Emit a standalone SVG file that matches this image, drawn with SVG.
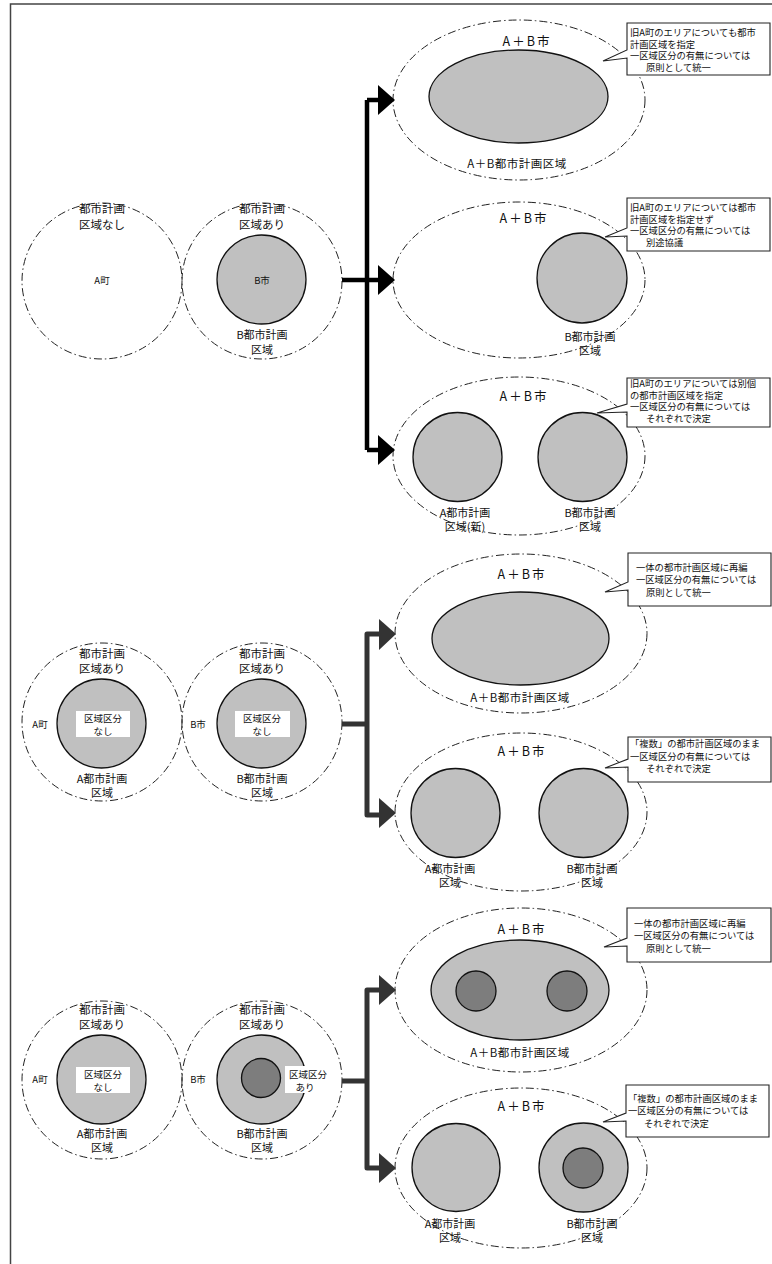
<svg xmlns="http://www.w3.org/2000/svg" width="772" height="1264" viewBox="0 0 772 1264">
<defs>
<style>
text{font-family:"Noto Sans CJK JP","Liberation Sans",sans-serif;fill:#111;text-anchor:middle;dominant-baseline:central}
.lbl{font-size:11px}
.big{font-size:11.5px}
.sm{font-size:9.5px}
.ab{font-size:12.5px;letter-spacing:2px}
.abr{font-size:11.5px;letter-spacing:0.5px}
.co{font-size:9.3px;text-anchor:start}
.zone{fill:none;stroke:#222;stroke-width:1;stroke-dasharray:8 3 1.5 3}
.area{fill:#c0c0c0;stroke:#111;stroke-width:1.3}
.dark{fill:#7d7d7d;stroke:#111;stroke-width:1.3}
.wbox{fill:#fff;stroke:none}
.call{fill:#fff;stroke:#222;stroke-width:1.1}
.conA{fill:none;stroke:#000;stroke-width:4.5;stroke-linejoin:round}
.conB{fill:none;stroke:#333;stroke-width:5;stroke-linejoin:round}
.headA{fill:#000}
.headB{fill:#333}
</style>
</defs>
<rect id="frame" x="10.5" y="4" width="800" height="1300" fill="none" stroke="#444" stroke-width="1.5"/>

<!-- ===== Section 1 ===== -->
<g id="s1-a">
<ellipse class="zone" cx="102" cy="281" rx="80" ry="78"/>
<text class="big" x="102" y="208">都市計画</text>
<text class="big" x="102" y="224">区域なし</text>
<text class="sm" x="102" y="280">A町</text>
</g>
<g id="s1-b">
<ellipse class="zone" cx="262" cy="281" rx="80" ry="78"/>
<circle class="area" cx="261.5" cy="279.5" r="44.5"/>
<text class="big" x="262" y="208">都市計画</text>
<text class="big" x="262" y="224">区域あり</text>
<text class="sm" x="262" y="280">B市</text>
<text class="lbl" x="262" y="334">B都市計画</text>
<text class="lbl" x="262" y="349">区域</text>
</g>
<g id="s1-r1">
<ellipse class="zone" cx="519" cy="100" rx="126" ry="80"/>
<ellipse class="area" cx="518.5" cy="96.5" rx="89.5" ry="46.5"/>
<text class="ab" x="527" y="40">A＋B市</text>
<text class="abr" x="517" y="163">A＋B都市計画区域</text>
</g>
<g id="s1-c1">
<path class="call" d="M627,23 H770 V75 H627 V58 L603,61 L627,50 Z"/>
<text class="co" x="630" y="31.5">旧A町のエリアについても都市</text>
<text class="co" x="630" y="43.5">計画区域を指定</text>
<text class="co" x="630" y="55">一区域区分の有無については</text>
<text class="co" x="646" y="67">原則として統一</text>
</g>
<g id="s1-r2">
<ellipse class="zone" cx="519" cy="280" rx="126" ry="78"/>
<circle class="area" cx="582" cy="278" r="45"/>
<text class="ab" x="524" y="217">A＋B市</text>
<text class="lbl" x="590" y="336">B都市計画</text>
<text class="lbl" x="590" y="350">区域</text>
</g>
<g id="s1-c2">
<path class="call" d="M627,198 H770 V251 H627 V236 L605,237 L627,228 Z"/>
<text class="co" x="630" y="206.5">旧A町のエリアについては都市</text>
<text class="co" x="630" y="218.5">計画区域を指定せず</text>
<text class="co" x="630" y="230">一区域区分の有無については</text>
<text class="co" x="646" y="242">別途協議</text>
</g>
<g id="s1-r3">
<ellipse class="zone" cx="519" cy="456" rx="126" ry="79"/>
<circle class="area" cx="457.5" cy="457" r="44.5"/>
<circle class="area" cx="582.5" cy="457" r="44.5"/>
<text class="ab" x="524" y="395">A＋B市</text>
<text class="lbl" x="465" y="512">A都市計画</text>
<text class="lbl" x="465" y="526">区域(新)</text>
<text class="lbl" x="590" y="512">B都市計画</text>
<text class="lbl" x="590" y="526">区域</text>
</g>
<g id="s1-c3">
<path class="call" d="M627,378 H770 V427 H627 V412 L597,413 L627,404 Z"/>
<text class="co" x="630" y="383">旧A町のエリアについては別個</text>
<text class="co" x="630" y="394.5">の都市計画区域を指定</text>
<text class="co" x="630" y="406">一区域区分の有無については</text>
<text class="co" x="646" y="418">それぞれで決定</text>
</g>

<!-- ===== Section 2 ===== -->
<g id="s2-a">
<ellipse class="zone" cx="102" cy="722" rx="80" ry="79"/>
<circle class="area" cx="101.5" cy="723.5" r="44.5"/>
<rect class="wbox" x="76" y="711" width="54" height="26"/>
<text class="big" x="102" y="653">都市計画</text>
<text class="big" x="102" y="668">区域あり</text>
<text class="sm" x="40" y="724">A町</text>
<text class="sm" x="103" y="717.5">区域区分</text>
<text class="sm" x="103" y="730.5">なし</text>
<text class="lbl" x="102" y="778">A都市計画</text>
<text class="lbl" x="102" y="792">区域</text>
</g>
<g id="s2-b">
<ellipse class="zone" cx="262" cy="722" rx="80" ry="79"/>
<circle class="area" cx="261.5" cy="723.5" r="44.5"/>
<rect class="wbox" x="235" y="711" width="55" height="26"/>
<text class="big" x="262" y="653">都市計画</text>
<text class="big" x="262" y="668">区域あり</text>
<text class="sm" x="198" y="724">B市</text>
<text class="sm" x="262" y="717.5">区域区分</text>
<text class="sm" x="262" y="730.5">なし</text>
<text class="lbl" x="262" y="778">B都市計画</text>
<text class="lbl" x="262" y="792">区域</text>
</g>
<g id="s2-r1">
<ellipse class="zone" cx="521" cy="633.5" rx="126" ry="79.5"/>
<ellipse class="area" cx="520.5" cy="638.5" rx="88.5" ry="46.5"/>
<text class="ab" x="522" y="573">A＋B市</text>
<text class="abr" x="520" y="697">A＋B都市計画区域</text>
</g>
<g id="s2-c1">
<path class="call" d="M628,553 H771 V606 H628 V590 L605,592 L628,582 Z"/>
<text class="co" x="636" y="566.5">一体の都市計画区域に再編</text>
<text class="co" x="636" y="579">一区域区分の有無については</text>
<text class="co" x="646" y="591.5">原則として統一</text>
</g>
<g id="s2-r2">
<ellipse class="zone" cx="521" cy="812" rx="126" ry="79"/>
<circle class="area" cx="455.5" cy="813" r="44.5"/>
<circle class="area" cx="583.5" cy="813" r="44.5"/>
<text class="ab" x="522" y="750">A＋B市</text>
<text class="lbl" x="450" y="868">A都市計画</text>
<text class="lbl" x="450" y="882">区域</text>
<text class="lbl" x="592" y="868">B都市計画</text>
<text class="lbl" x="592" y="882">区域</text>
</g>
<g id="s2-c2">
<path class="call" d="M628,737 H771 V782 H628 V767 L605,768 L628,759 Z"/>
<text class="co" x="630" y="743">「複数」の都市計画区域のまま</text>
<text class="co" x="630" y="755.5">一区域区分の有無については</text>
<text class="co" x="646" y="768">それぞれで決定</text>
</g>

<!-- ===== Section 3 ===== -->
<g id="s3-a">
<ellipse class="zone" cx="102" cy="1080" rx="80" ry="79"/>
<circle class="area" cx="101.5" cy="1079.5" r="44.5"/>
<rect class="wbox" x="76" y="1067" width="54" height="26"/>
<text class="big" x="102" y="1009">都市計画</text>
<text class="big" x="102" y="1024">区域あり</text>
<text class="sm" x="40" y="1079">A町</text>
<text class="sm" x="103" y="1073.5">区域区分</text>
<text class="sm" x="103" y="1086.5">なし</text>
<text class="lbl" x="102" y="1133">A都市計画</text>
<text class="lbl" x="102" y="1147">区域</text>
</g>
<g id="s3-b">
<ellipse class="zone" cx="262" cy="1080" rx="80" ry="79"/>
<circle class="area" cx="261.5" cy="1079.5" r="44.5"/>
<circle class="dark" cx="261" cy="1078" r="19.5"/>
<rect class="wbox" x="285" y="1066" width="48" height="27"/>
<text class="big" x="262" y="1009">都市計画</text>
<text class="big" x="262" y="1024">区域あり</text>
<text class="sm" x="198" y="1079">B市</text>
<text class="sm" x="308" y="1073.5">区域区分</text>
<text class="sm" x="305" y="1086.5">あり</text>
<text class="lbl" x="262" y="1133">B都市計画</text>
<text class="lbl" x="262" y="1147">区域</text>
</g>
<g id="s3-r1">
<ellipse class="zone" cx="521" cy="990" rx="126" ry="82"/>
<ellipse class="area" cx="520" cy="990" rx="89" ry="50"/>
<circle class="dark" cx="476" cy="991" r="20"/>
<circle class="dark" cx="567" cy="991" r="20"/>
<text class="ab" x="522" y="928">A＋B市</text>
<text class="abr" x="520" y="1052">A＋B都市計画区域</text>
</g>
<g id="s3-c1">
<path class="call" d="M627,908 H771 V962 H627 V946 L604,947 L627,938 Z"/>
<text class="co" x="634" y="922.5">一体の都市計画区域に再編</text>
<text class="co" x="634" y="935">一区域区分の有無については</text>
<text class="co" x="646" y="947.5">原則として統一</text>
</g>
<g id="s3-r2">
<ellipse class="zone" cx="521" cy="1168" rx="126" ry="80"/>
<circle class="area" cx="456" cy="1167.5" r="44"/>
<circle class="area" cx="583.5" cy="1167.5" r="44.5"/>
<circle class="dark" cx="583" cy="1168" r="20"/>
<text class="ab" x="522" y="1105">A＋B市</text>
<text class="lbl" x="450" y="1223">A都市計画</text>
<text class="lbl" x="450" y="1237">区域</text>
<text class="lbl" x="592" y="1223">B都市計画</text>
<text class="lbl" x="592" y="1237">区域</text>
</g>
<g id="s3-c2">
<path class="call" d="M626,1085 H769 V1137 H626 V1121 L603,1122 L626,1113 Z"/>
<text class="co" x="628" y="1097.5">「複数」の都市計画区域のまま</text>
<text class="co" x="628" y="1110">一区域区分の有無については</text>
<text class="co" x="644" y="1122.5">それぞれで決定</text>
</g>

<!-- ===== Connectors ===== -->
<g id="connectors">
<path class="conA" d="M342,280 H380 M367,100 V450 M367,100 H380 M367,450 H380"/>
<polygon class="headA" points="378,85 395,100 378,115"/>
<polygon class="headA" points="378,265 395,280 378,295"/>
<polygon class="headA" points="378,435 395,450 378,465"/>
<path class="conB" d="M342,724 H367 M381,634 H367 V815 H381"/>
<polygon class="headB" points="379,619 396,634 379,650"/>
<polygon class="headB" points="379,798 396,813 379,828"/>
<path class="conB" d="M342,1081 H367 M381,990 H367 V1168 H381"/>
<polygon class="headB" points="379,975 396,990 379,1005"/>
<polygon class="headB" points="379,1153 396,1168 379,1183"/>
</g>
</svg>
